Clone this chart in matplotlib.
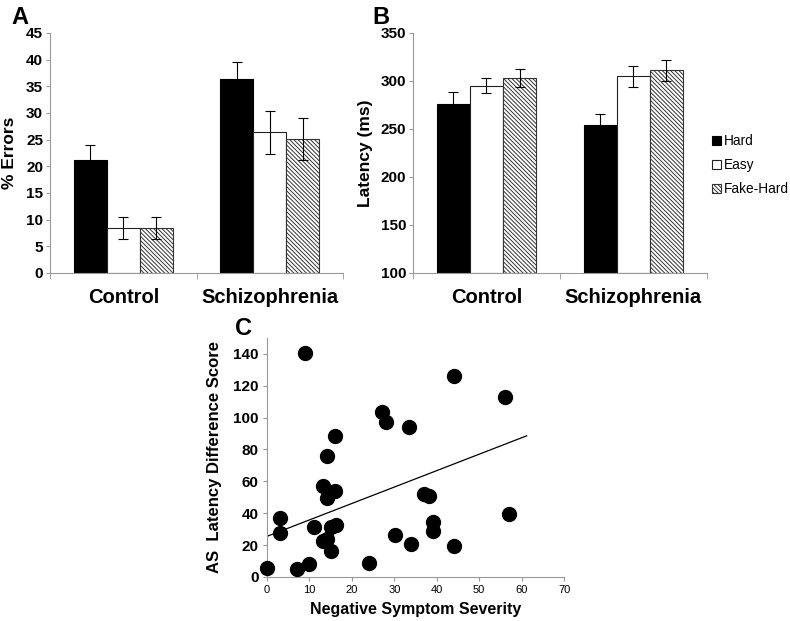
import numpy as np
import matplotlib
matplotlib.use("Agg")
import matplotlib.pyplot as plt
from matplotlib.patches import Patch

plt.rcParams['font.family'] = ['Liberation Sans', 'DejaVu Sans']
plt.rcParams['hatch.linewidth'] = 0.7

groups = ["Control", "Schizophrenia"]
conditions = ["Hard", "Easy", "Fake-Hard"]

errors_mean = {"Hard": [21.2, 36.4], "Easy": [8.5, 26.4], "Fake-Hard": [8.4, 25.1]}
errors_sem = {"Hard": [2.8, 3.2], "Easy": [2.05, 4.0], "Fake-Hard": [2.05, 4.0]}

latency_mean = {"Hard": [276, 254], "Easy": [295, 305], "Fake-Hard": [303, 311]}
latency_sem = {"Hard": [12, 12], "Easy": [8, 11], "Fake-Hard": [9, 11]}

neg_symptom = [0, 9, 3.1, 3.1, 7.1, 10, 11.1, 13.1, 14.1, 14.1, 16.1, 16.1, 13.1, 14.1,
               15.1, 15.1, 16.2, 24.1, 27, 28.1, 30.1, 33.4, 33.9, 36.9, 38.1, 39.1,
               39.1, 44, 44, 56, 57]
latency_diff = [5.6, 140.4, 37, 27.6, 5.2, 7.9, 31.3, 56.8, 76, 49.3, 88.6, 54.1, 22.6, 24,
                16.3, 31.3, 32.8, 9, 103.4, 97.4, 26.1, 94.4, 20.9, 52, 50.8, 34.5,
                28.6, 126, 19.6, 113.2, 39.3]
trend_x = [0, 61.2]
trend_y = [25.5, 88.6]

styles = {
    "Hard": dict(facecolor="black", edgecolor="black", hatch=None),
    "Easy": dict(facecolor="white", edgecolor="#222222", hatch=None),
    "Fake-Hard": dict(facecolor="white", edgecolor="#333333", hatch="\\\\\\\\\\\\\\\\"),
}

spine_col = "#999999"

fig = plt.figure(figsize=(7.9, 6.21), dpi=100)
axA = fig.add_axes([0.0633, 0.5604, 0.371, 0.3865])
axB = fig.add_axes([0.5228, 0.5604, 0.372, 0.3865])
axC = fig.add_axes([0.338, 0.0709, 0.376, 0.3849])

def bar_panel(ax, means, sems, ylim, yticks, ylabel, base=0):
    x = np.arange(len(groups))
    w = 0.225
    for i, c in enumerate(conditions):
        st = styles[c]
        heights = np.array(means[c]) - base
        ax.bar(x + (i - 1) * w, heights, w, bottom=base, facecolor=st["facecolor"],
               edgecolor=st["edgecolor"], hatch=st["hatch"], linewidth=0.8, zorder=2)
        ax.errorbar(x + (i - 1) * w, means[c], yerr=sems[c], fmt="none", ecolor="black",
                    elinewidth=0.8, capsize=3.5, capthick=0.8, zorder=3)
    ax.set_xlim(-0.5, len(groups) - 0.5)
    ax.set_ylim(*ylim)
    ax.set_yticks(yticks)
    ax.set_yticklabels([str(t) for t in yticks], fontsize=11, fontweight="bold")
    ax.set_xticks(x)
    ax.set_xticklabels(groups, fontsize=14.5, fontweight="bold")
    ax.tick_params(axis="x", length=0, pad=11)
    ax.set_xticks(np.arange(-0.5, len(groups)), minor=True)
    ax.tick_params(axis="x", which="minor", length=4, color=spine_col, direction="out")
    ax.tick_params(axis="y", length=3, color=spine_col, pad=2)
    for s in ["top", "right"]:
        ax.spines[s].set_visible(False)
    for s in ["left", "bottom"]:
        ax.spines[s].set_color(spine_col)
        ax.spines[s].set_linewidth(0.8)
    ax.set_ylabel(ylabel, fontsize=12.5, fontweight="bold", labelpad=4)

bar_panel(axA, errors_mean, errors_sem, (0, 45), list(range(0, 46, 5)), "% Errors")
bar_panel(axB, latency_mean, latency_sem, (100, 350), list(range(100, 351, 50)), "Latency (ms)", base=100)
axA.yaxis.set_label_coords(-0.112, 0.5)
axB.yaxis.set_label_coords(-0.135, 0.5)

handles = [Patch(facecolor=styles[c]["facecolor"], edgecolor=styles[c]["edgecolor"],
                 hatch=styles[c]["hatch"], linewidth=0.8, label=c) for c in conditions]
fig.legend(handles=handles, loc="upper left", bbox_to_anchor=(0.895, 0.793), frameon=False,
           fontsize=9.8, handlelength=0.6, handleheight=0.6, handletextpad=0.2,
           labelspacing=0.75, borderaxespad=0)

# Panel C
axC.scatter(neg_symptom, latency_diff, s=100, color="black", zorder=3, clip_on=False)
axC.plot(trend_x, trend_y, color="black", linewidth=0.9, zorder=2)
axC.set_xlim(0, 70)
axC.set_ylim(0, 150)
axC.set_xticks(range(0, 71, 10))
axC.set_xticklabels([str(v) for v in range(0, 71, 10)], fontsize=8)
axC.set_yticks(range(0, 141, 20))
axC.set_yticklabels([str(v) for v in range(0, 141, 20)], fontsize=11, fontweight="bold")
axC.tick_params(axis="both", length=3, color=spine_col, pad=3)
for s in ["top", "right"]:
    axC.spines[s].set_visible(False)
for s in ["left", "bottom"]:
    axC.spines[s].set_color(spine_col)
    axC.spines[s].set_linewidth(0.8)
axC.set_xlabel("Negative Symptom Severity", fontsize=11.5, fontweight="bold", labelpad=5)
axC.set_ylabel("AS  Latency Difference Score", fontsize=12, fontweight="bold")
axC.yaxis.set_label_coords(-0.152, 0.5)

fig.text(0.014, 0.99, "A", fontsize=17, fontweight="bold", va="top")
fig.text(0.471, 0.99, "B", fontsize=17, fontweight="bold", va="top")
fig.text(0.298, 0.49, "C", fontsize=17, fontweight="bold", va="top")

fig.savefig("out.png", dpi=100)
